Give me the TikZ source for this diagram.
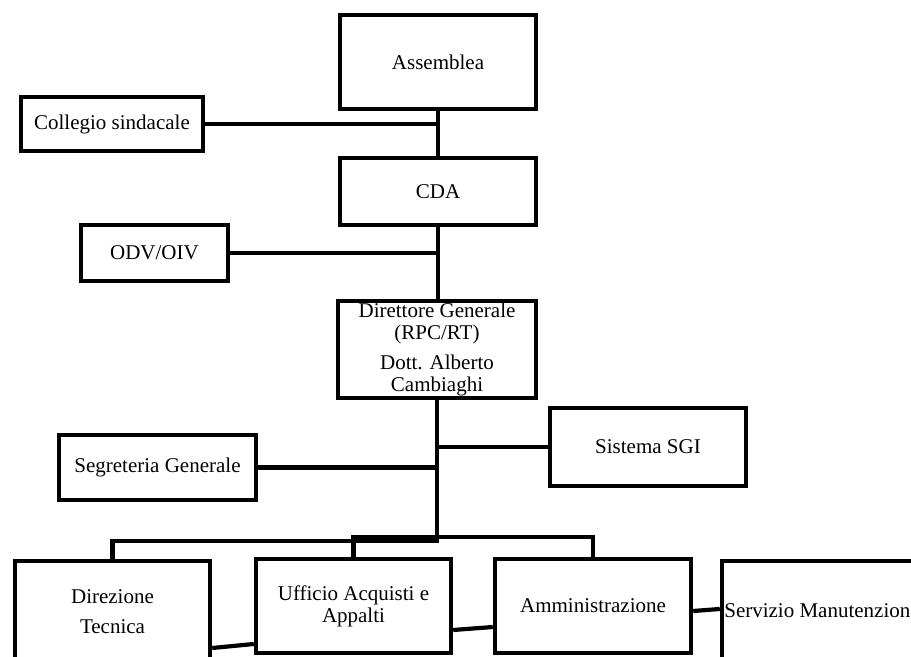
\documentclass[tikz,border=0pt]{standalone}
\usepackage{fontspec}
\setmainfont{Liberation Serif}

\tikzset{
  unit/.style={draw, rectangle, line width=2.2pt, inner sep=0pt, align=center,
    font=\fontsize{10.5}{11}\selectfont},
  link/.style={line width=2.1pt},
}

\begin{document}
\begin{tikzpicture}[x=0.5pt, y=-0.5pt]
        \clip (0,0) rectangle (911,657); % page frame

        % governing bodies
        \node[unit, minimum width=98pt, minimum height=47pt] (ass) at (438,62) {Assemblea};
        \node[unit, minimum width=91pt, minimum height=27pt] (col) at (112,124) {Collegio sindacale};
        \node[unit, minimum width=98pt, minimum height=33.5pt] (cda) at (438,191.5) {CDA};
        \node[unit, minimum width=73.5pt, minimum height=28pt] (odv) at (154.5,253) {ODV/OIV};
        \node[unit, minimum width=99pt, minimum height=48.5pt] (dg) at (437,349.5)
            {Direttore Generale\\(RPC/RT)\\[4pt]Dott. Alberto\\Cambiaghi};
        \node[unit, minimum width=98pt, minimum height=39pt] (sgi) at (648,447) {Sistema SGI};
        \node[unit, minimum width=98.5pt, minimum height=32.5pt] (seg) at (157.5,467.5) {Segreteria Generale};

        % offices
        \node[unit, minimum width=97.5pt, minimum height=51pt] (dt) at (112.5,612) {Direzione\\[4pt]Tecnica};
        \node[unit, minimum width=97.5pt, minimum height=47pt] (uaa) at (353.5,606) {Ufficio Acquisti e\\Appalti};
        \node[unit, minimum width=98pt, minimum height=47pt] (amm) at (593,606) {Amministrazione};
        \node[unit, minimum width=100pt, minimum height=50pt] (sman) at (822,611) {Servizio Manutenzione};

        \coordinate (busL) at (437,541);
        \coordinate (busR) at (437,537);

        \draw[link] (ass.south) -- (cda.north);
        \draw[link] (col.east) -- (col.east -| ass.south);
        \draw[link] (cda.south) -- (cda.south |- dg.north);
        \draw[link] (odv.east) -- (odv.east -| cda.south);
        \draw[link] (sgi.west) -- (sgi.west -| dg.south);
        \draw[link] (seg.east) -- (seg.east -| dg.south);
        \draw[link] (dg.south) -- (busL) -| (dt.north);
        \draw[link] (uaa.north) |- (busR);
        \draw[link] (uaa.north |- busR) -| (amm.north);

        % side links
        \draw[link] ([yshift=-18pt]dt.east) -- ([yshift=-19pt]uaa.west);
        \draw[link] ([yshift=-12pt]uaa.east) -- ([yshift=-10.5pt]amm.west);
        \draw[link] ([yshift=-2.5pt]amm.east) -- ([yshift=1pt]sman.west);
\end{tikzpicture}
\end{document}
